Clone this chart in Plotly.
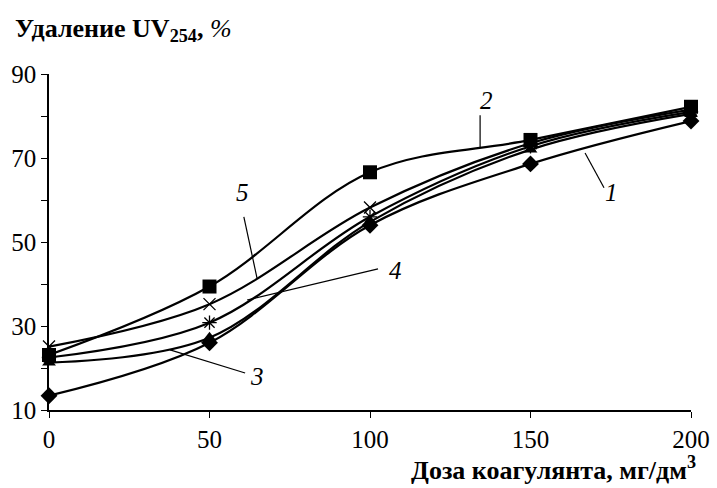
import plotly.graph_objects as go

dose = [0, 50, 100, 150, 200]
s1 = [13.4, 26.0, 54.0, 68.6, 78.8]
s2 = [23.1, 39.4, 66.6, 74.3, 82.2]
s3 = [21.3, 27.2, 54.8, 72.0, 80.5]
s4 = [22.5, 30.8, 56.0, 72.8, 81.0]
s5 = [25.1, 35.2, 58.2, 73.5, 81.5]

y_ticks = [10, 30, 50, 70, 90]
x_ticks = [0, 50, 100, 150, 200]

SERIF = "'Times New Roman', 'Liberation Serif', 'DejaVu Serif', serif"

# curve labels: (text, text_x, text_y, line_x0, line_y0, line_x1, line_y1)
labels = [
    ("2", 136.4, 83.8, 134.3, 80.2, 134.3, 72.6),
    ("1", 175.1, 61.7, 172.9, 62.9, 167.0, 71.2),
    ("5", 60.4, 61.7, 60.7, 56.0, 64.8, 41.4),
    ("4", 107.8, 43.3, 102.5, 43.6, 61.7, 36.2),
    ("3", 64.8, 17.9, 61.1, 18.8, 37.7, 24.3),
]

series = [
    (s1, "diamond", 13, dict(color="black")),
    (s3, "triangle-up", 12, dict(color="black")),
    (s4, "asterisk-open", 12, dict(color="black", line=dict(color="black", width=1.3))),
    (s5, "x-thin-open", 12, dict(color="black", line=dict(color="black", width=1.3))),
    (s2, "square", 14, dict(color="black")),
]

fig = go.Figure()
for vals, sym, sz, mk in series:
    fig.add_trace(go.Scatter(
        x=dose, y=vals, mode="lines+markers",
        line=dict(color="black", width=2.2, shape="spline", smoothing=1.0),
        marker=dict(symbol=sym, size=sz, **mk),
        cliponaxis=False, showlegend=False, hoverinfo="skip",
    ))

for t, tx, ty, x0, y0, x1, y1 in labels:
    fig.add_shape(type="line", x0=x0, y0=y0, x1=x1, y1=y1, xref="x", yref="y",
                  line=dict(color="black", width=1.2))
    fig.add_annotation(x=tx, y=ty, xref="x", yref="y", text="<i>" + t + "</i>", showarrow=False,
                       font=dict(family=SERIF, size=25, color="black"),
                       xanchor="center", yanchor="middle")

fig.add_annotation(x=-0.056, y=1.131, xref="paper", yref="paper", xanchor="left", yanchor="middle",
                   text="<b>Удаление UV<sub>254</sub>,</b> <i>%</i>", showarrow=False,
                   font=dict(family=SERIF, size=26, color="black"))
fig.add_annotation(x=1.011, y=-0.175, xref="paper", yref="paper", xanchor="right", yanchor="middle",
                   text="<b>Доза коагулянта, мг/дм<sup>3</sup></b>", showarrow=False,
                   font=dict(family=SERIF, size=26, color="black"))

fig.update_layout(
    width=717, height=488,
    margin=dict(l=49, r=26, t=74, b=78, autoexpand=False),
    plot_bgcolor="white", paper_bgcolor="white",
    font=dict(family=SERIF, size=25, color="black"),
)
fig.update_xaxes(range=[0, 200], tickvals=x_ticks, ticks="outside", ticklen=6, tickwidth=1.2,
                 tickcolor="black", showline=True, linecolor="black", linewidth=1.5,
                 showgrid=False, zeroline=False, tickfont=dict(family=SERIF, size=25),
                 automargin=False)
fig.update_yaxes(range=[10, 90], tickvals=y_ticks, ticks="outside", ticklen=6,
                 tickwidth=1.2, tickcolor="black", showline=True, linecolor="black", linewidth=1.5,
                 showgrid=False, zeroline=False, tickfont=dict(family=SERIF, size=25),
                 minor=dict(dtick=10, tick0=10, ticks="outside", ticklen=6, tickwidth=1.2,
                            tickcolor="black", showgrid=False),
                 automargin=False)

fig.write_html("out.html", config={"displayModeBar": False},
               post_script="document.body.style.margin='0';document.body.style.padding='0';")
